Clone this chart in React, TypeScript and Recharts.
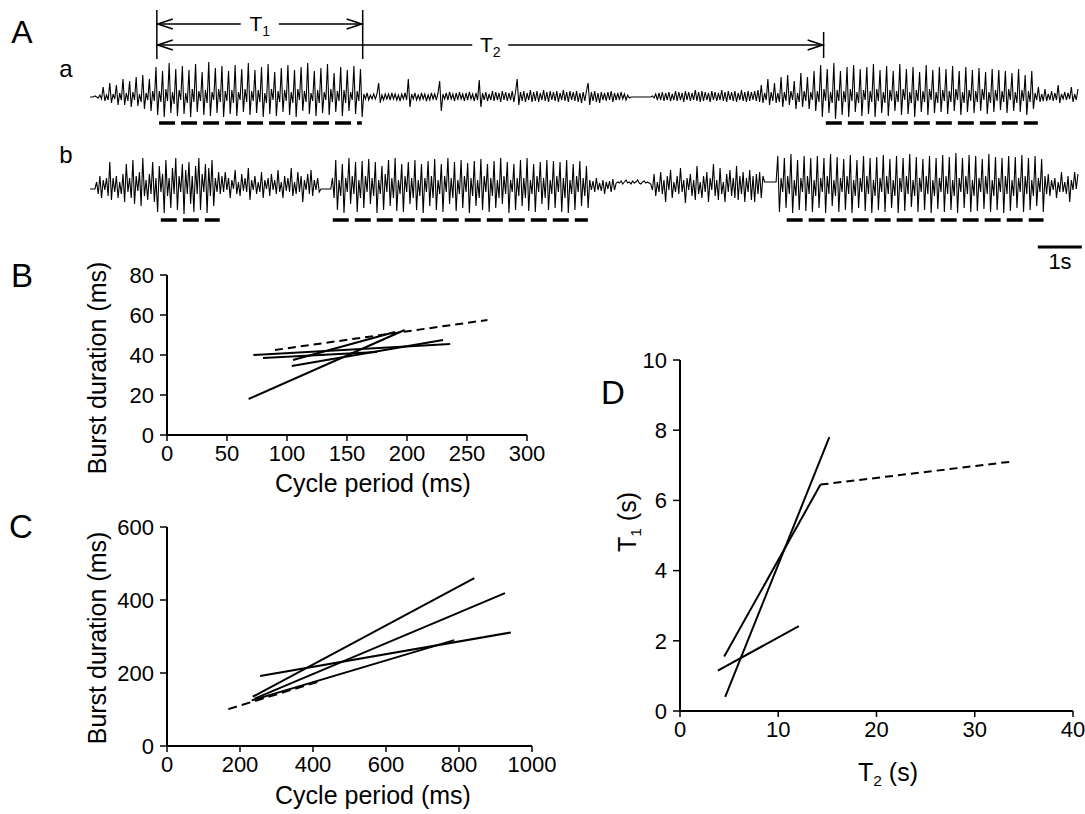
import { LineChart, Line, XAxis, YAxis, ReferenceLine } from "recharts";

const FONT = "'Liberation Sans', Arial, Helvetica, sans-serif";

// ---- Panel A: two extracellular recordings, one sample every 37.5 ms ----
// values are deflections from baseline (up = positive)
const SAMPLE_S = 0.0375;

const traceA = [
  0, 0, 0, 1, 0, -1, 2, -2, 10, -4, 2, -3, 14, -6, 3, -2, 12, -8, 4, -3,
  18, -8, 4, -4, 16, -10, 5, -3, 20, -9, 3, -5, 22, -12, 4, -3, 18, -14, 6, -4,
  30, -18, 6, -5, 26, -20, 8, -4, 34, -16, 5, -7, 28, -19, 7, -3, 31, -17, 4, -6,
  27, -20, 8, -5, 33, -15, 6, -4, 25, -18, 7, -6, 35, -19, 5, -3, 29, -16, 8, -5,
  31, -20, 6, -4, 26, -17, 7, -6, 32, -19, 5, -3, 28, -15, 8, -5, 34, -18, 6, -4,
  27, -16, 7, -5, 30, -20, 4, -6, 33, -17, 8, -3, 25, -19, 6, -5, 29, -15, 7, -4,
  32, -18, 5, -6, 27, -20, 8, -3, 30, -14, 6, -5, 34, -17, 4, -4, 26, -19, 7, -6,
  29, -16, 5, -3, 33, -18, 8, -5, 24, -15, 6, -4, 30, -19, 7, -6, 27, -14, 5, -3,
  31, -17, 6, -4, 28, -20, 3, -2, 4, -3, 2, -2, 3, -2, 3, 14, -6, 2, -3, 3,
  -2, 3, -3, 4, -2, 3, -3, 2, -4, 3, -2, 4, -3, 18, -10, 3, -2, 4, -3, 2,
  -3, 4, -2, 3, -4, 2, -3, 4, -2, 3, -3, 4, 16, -14, 3, -2, 4, -3, 5, -2,
  3, -4, 4, -3, 5, -2, 3, -4, 4, -3, 5, -2, 3, -4, 4, -3, 17, -10, 4, -3,
  5, -4, 3, -3, 6, -4, 5, -3, 4, -5, 6, -3, 5, -4, 4, -3, 6, -5, 5, 18,
  -8, 5, -4, 6, -5, 4, -3, 7, -5, 5, -4, 6, -5, 4, -3, 7, -4, 5, -5, 6,
  -3, 5, -4, 6, -5, 4, -3, 7, -4, 5, -5, 6, -3, 5, -4, 6, -5, 4, -6, 5,
  -4, 6, 14, -8, 5, -4, 6, -5, 4, -6, 5, -3, 4, -4, 5, -3, 6, -5, 4, -3,
  4, -3, 5, -2, 3, -3, 2, -1, 0, 0, 0, 0, 0, 0, 0, 0, 0, 0, 0, 0,
  0, 1, -1, 3, -3, 4, -3, 5, -4, 4, -3, 5, -4, 3, -3, 6, -4, 5, -3, 4,
  -5, 6, -3, 5, -4, 4, -3, 7, -4, 5, -5, 6, -4, 5, -3, 4, -5, 6, -3, 5,
  -4, 4, -3, 7, -4, 5, -5, 6, -3, 5, -4, 6, -5, 4, -3, 7, -4, 5, -5, 6,
  -4, 5, -3, 6, -4, 7, -5, 12, -6, 4, -3, 18, -8, 5, -4, 14, -6, 4, -5, 20,
  -10, 5, -4, 22, -8, 6, -3, 16, -12, 4, -5, 24, -10, 6, -4, 20, -12, 5, -3, 26,
  -14, 6, -5, 32, -20, 8, -4, 28, -16, 5, -6, 34, -22, 7, -4, 26, -18, 6, -5, 30,
  -20, 8, -4, 32, -15, 5, -6, 28, -19, 7, -3, 30, -17, 6, -5, 33, -20, 8, -4, 27,
  -16, 5, -6, 31, -19, 7, -4, 26, -14, 6, -5, 33, -18, 8, -3, 28, -17, 5, -6, 30,
  -20, 7, -4, 25, -15, 6, -5, 32, -18, 8, -3, 27, -16, 5, -6, 30, -15, 7, -4, 28,
  -17, 6, -5, 31, -14, 8, -3, 26, -18, 5, -6, 30, -15, 7, -4, 27, -16, 6, -5, 29,
  -14, 8, -3, 25, -17, 5, -6, 28, -15, 7, -4, 27, -13, 6, -5, 26, -16, 8, -3, 24,
  -14, 5, -6, 28, -15, 7, -4, 22, -18, 6, -5, 26, -12, 4, -3, 10, -5, 3, -4, 8,
  -4, 3, -3, 6, -4, 4, -3, 12, -6, 3, -2, 5, -3, 4, -2, 10, -5, 3, -3, 8,
];

const traceB = [
  -3, -3, -3, -3, 4, -8, 10, -12, 6, -4, 8, -10, 24, -14, 8, -6, 10, -12, 4, -8,
  12, -16, 22, -6, 8, -12, 26, -18, 10, -5, 14, -20, 28, -10, 6, -14, 12, -8, 24, -16,
  8, -26, 20, -6, 12, -27, 26, -10, 8, -22, 18, -8, 28, -24, 10, -6, 22, -28, 16, -8,
  24, -18, 10, -26, 20, -8, 28, -24, 12, -6, 22, -27, 18, -10, 26, -20, 8, -6, 14, -8,
  10, -6, 14, -4, 8, -12, 6, -3, 16, -8, 4, -10, 12, -5, 8, -6, 18, -14, 6, -4,
  10, -8, 4, -6, 14, -12, 6, -3, 8, -10, 12, -4, 6, -8, 16, -6, 4, -12, 10, -5,
  8, -6, 18, -10, 4, -8, 14, -6, 10, -16, 6, -4, 12, -8, 16, -10, 6, -4, 8, -6,
  -3, -3, -3, -3, -3, -3, -3, 8, -12, 26, -24, 6, -10, 22, -27, 8, -6, 28, -18, 10,
  -8, 24, -26, 6, -12, 25, -22, 10, -6, 27, -18, 8, -10, 24, -27, 6, -8, 20, -24, 12,
  -6, 26, -20, 8, -12, 28, -25, 6, -8, 22, -26, 10, -6, 24, -18, 8, -12, 26, -24, 6,
  -10, 22, -27, 8, -6, 25, -20, 10, -12, 27, -24, 6, -8, 22, -26, 10, -6, 28, -18, 8,
  -12, 24, -25, 6, -8, 26, -22, 10, -6, 23, -27, 8, -10, 25, -20, 6, -12, 27, -24, 10,
  -6, 22, -26, 8, -10, 25, -22, 6, -12, 28, -18, 10, -8, 24, -27, 6, -6, 22, -24, 8,
  -10, 26, -20, 8, -12, 28, -25, 6, -8, 22, -26, 10, -6, 24, -18, 8, -12, 26, -24, 6,
  -8, 25, -22, 10, -6, 24, -26, 8, -12, 26, -27, 6, -8, 22, -24, 10, -6, 25, -20, 8,
  -10, 20, -22, 6, -4, 5, -6, 8, -4, 3, -5, 6, -8, 4, -3, 5, -6, 7, -4, 3,
  4, 3, 5, 2, 4, 6, 3, 4, 2, 5, 3, 4, 6, 3, 2, 4, 5, 3, 4, 3,
  2, -4, 12, -10, 4, -6, 14, -8, 6, -16, 10, -4, 16, -12, 4, -6, 10, -8, 18, -6,
  6, -17, 8, -4, 12, -10, 6, -14, 20, -8, 4, -12, 10, -6, 14, -16, 8, -4, 22, -10,
  6, -14, 18, -8, 4, -16, 12, -6, 16, -10, 8, -12, 20, -14, 10, -8, 14, -16, 8, -6,
  16, -14, 10, -16, 12, -8, 14, -12, 10, 4, 4, 4, 4, 4, 4, 4, 4, 30, -26, 8,
  -6, 28, -22, 10, -8, 32, -27, 6, -10, 26, -24, 8, -6, 30, -25, 10, -8, 28, -26, 6,
  -10, 30, -22, 8, -6, 28, -27, 10, -8, 32, -20, 6, -10, 29, -26, 8, -6, 27, -24, 10,
  -8, 31, -27, 6, -10, 26, -22, 8, -6, 30, -25, 10, -8, 28, -27, 6, -10, 29, -24, 8,
  -6, 31, -26, 10, -8, 27, -22, 6, -10, 30, -27, 8, -6, 28, -25, 10, -8, 32, -21, 6,
  -10, 29, -26, 8, -6, 27, -24, 10, -8, 30, -27, 6, -10, 28, -23, 8, -6, 31, -26, 10,
  -8, 29, -24, 6, -10, 33, -27, 8, -6, 28, -22, 10, -8, 31, -26, 6, -10, 30, -25, 8,
  -6, 27, -23, 10, -8, 32, -26, 6, -10, 29, -24, 8, -6, 28, -27, 10, -8, 30, -25, 6,
  -10, 29, -22, 8, -6, 31, -26, 10, -8, 28, -24, 6, -10, 30, -20, 8, -6, 27, -26, 10,
  -8, 12, -10, 6, -4, 8, -12, 4, -6, 14, -6, 4, -8, 10, -16, 6, -4, 14, -3, 12,
];

// burst intervals (s) marked by the dashed bars
const burstStartA = [1.57, 16.73];
const burstEndA = [6.18, 21.55];
const burstStartB = [1.61, 5.52, 15.84];
const burstEndB = [2.95, 11.32, 21.68];

// T1 / T2 markers (s)
const T_START = 1.52;
const T1_END = 6.2;
const T2_END = 16.68;
const SCALE_BAR = [21.55, 22.55];

// ---- Panel B: burst duration vs cycle period (ms) ----
const bCycleStart = [68, 72, 80, 104, 105];
const bCycleEnd = [198, 236, 175, 230, 190];
const bBurstStart = [18, 40, 38.5, 34.5, 37.5];
const bBurstEnd = [52.5, 45.5, 41.5, 47.5, 51.5];
const bDashCycle = [90, 267];
const bDashBurst = [42.5, 57.5];

// ---- Panel C ----
const cCycleStart = [235, 240, 232, 255];
const cCycleEnd = [842, 926, 787, 942];
const cBurstStart = [135, 130, 125, 192];
const cBurstEnd = [460, 419, 290, 311];
const cDashCycle = [168, 420];
const cDashBurst = [101, 178];

// ---- Panel D: T1 vs T2 (s) ----
const dT2Start = [4.5, 4.6, 3.85];
const dT2End = [14.3, 15.2, 12.1];
const dT1Start = [1.55, 0.4, 1.15];
const dT1End = [6.45, 7.8, 2.42];
const dDashT2 = [14.3, 33.6];
const dDashT1 = [6.45, 7.1];

const traceData = traceA.map((v, i) => ({
  t: +(i * SAMPLE_S).toFixed(4),
  a: v,
  b: traceB[i],
}));

const seg = (x0: number, x1: number, y0: number, y1: number) => [
  { x: x0, y: y0 },
  { x: x1, y: y1 },
];

const tickStyle = { fill: "#000", fontSize: 22, fontFamily: FONT };
const axisLine = { stroke: "#000", strokeWidth: 2 };
const tickLine = { stroke: "#000", strokeWidth: 1.5 };

function spanArrow(sub: string, half: number) {
  return (p: any) => {
    const lo = Math.min(p.x1, p.x2);
    const hi = Math.max(p.x1, p.x2);
    const y = p.y1;
    const mid = (lo + hi) / 2;
    return (
      <g>
        <line x1={lo} y1={y} x2={mid - half} y2={y} stroke="#000" strokeWidth={1.4} />
        <line x1={mid + half} y1={y} x2={hi} y2={y} stroke="#000" strokeWidth={1.4} />
        <polyline
          points={`${lo + 16},${y - 5} ${lo + 1},${y} ${lo + 16},${y + 5}`}
          fill="none"
          stroke="#000"
          strokeWidth={1.6}
        />
        <polyline
          points={`${hi - 16},${y - 5} ${hi - 1},${y} ${hi - 16},${y + 5}`}
          fill="none"
          stroke="#000"
          strokeWidth={1.6}
        />
        <text x={mid} y={y + 7} textAnchor="middle" fontSize={21} fontFamily={FONT} fill="#000">
          T
          <tspan fontSize={14} dy={5}>
            {sub}
          </tspan>
        </text>
      </g>
    );
  };
}

function Txt({
  x,
  y,
  size,
  rotate,
  children,
}: {
  x: number;
  y: number;
  size: number;
  rotate?: boolean;
  children: any;
}) {
  return (
    <div
      style={{
        position: "absolute",
        left: x,
        top: y,
        fontSize: size,
        lineHeight: 1,
        whiteSpace: "nowrap",
        transform: `translate(-50%, -50%)${rotate ? " rotate(-90deg)" : ""}`,
      }}
    >
      {children}
    </div>
  );
}

const Sub = ({ children }: { children: any }) => (
  <span style={{ fontSize: "0.62em", position: "relative", top: "0.3em" }}>{children}</span>
);

function TraceChart() {
  return (
    <LineChart
      width={994}
      height={270}
      data={traceData}
      margin={{ top: 0, right: 0, bottom: 0, left: 0 }}
    >
      <XAxis type="number" dataKey="t" domain={[0, 22.6]} allowDataOverflow hide />
      <YAxis yAxisId="a" type="number" domain={[-173, 97]} allowDataOverflow hide />
      <YAxis yAxisId="b" type="number" domain={[-84, 186]} allowDataOverflow hide />
      <YAxis yAxisId="ann" type="number" domain={[0, 270]} reversed allowDataOverflow hide />
      <Line
        yAxisId="a"
        dataKey="a"
        stroke="#000"
        strokeWidth={1.1}
        dot={false}
        isAnimationActive={false}
      />
      <Line
        yAxisId="b"
        dataKey="b"
        stroke="#000"
        strokeWidth={1.1}
        dot={false}
        isAnimationActive={false}
      />
      {[T_START, T1_END].map((t) => (
        <ReferenceLine
          key={"v" + t}
          yAxisId="ann"
          segment={seg(t, t, 10, 59)}
          stroke="#000"
          strokeWidth={1.5}
        />
      ))}
      <ReferenceLine yAxisId="ann" segment={seg(T2_END, T2_END, 32, 58)} stroke="#000" strokeWidth={1.5} />
      <ReferenceLine yAxisId="ann" segment={seg(T_START, T1_END, 24, 24)} shape={spanArrow("1", 19)} />
      <ReferenceLine yAxisId="ann" segment={seg(T_START, T2_END, 45, 45)} shape={spanArrow("2", 18)} />
      {burstStartA.map((s, i) => (
        <ReferenceLine
          key={"ba" + i}
          yAxisId="a"
          segment={seg(s, burstEndA[i], -26, -26)}
          stroke="#000"
          strokeWidth={3.5}
          strokeDasharray="16 6"
        />
      ))}
      {burstStartB.map((s, i) => (
        <ReferenceLine
          key={"bb" + i}
          yAxisId="b"
          segment={seg(s, burstEndB[i], -34, -34)}
          stroke="#000"
          strokeWidth={3.5}
          strokeDasharray="16 6"
        />
      ))}
      <ReferenceLine
        yAxisId="ann"
        segment={seg(SCALE_BAR[0], SCALE_BAR[1], 247, 247)}
        stroke="#000"
        strokeWidth={3}
      />
    </LineChart>
  );
}

function PeriodChart({
  width,
  height,
  margin,
  xMax,
  xTicks,
  yMax,
  yTicks,
  yWidth,
  starts,
  ends,
  y0s,
  y1s,
  dashX,
  dashY,
  dash,
}: any) {
  return (
    <LineChart width={width} height={height} margin={margin}>
      <XAxis
        type="number"
        dataKey="x"
        domain={[0, xMax]}
        ticks={xTicks}
        allowDataOverflow
        height={40}
        tickSize={6}
        tickMargin={4}
        tick={tickStyle}
        axisLine={axisLine}
        tickLine={tickLine}
      />
      <YAxis
        type="number"
        dataKey="y"
        domain={[0, yMax]}
        ticks={yTicks}
        allowDataOverflow
        width={yWidth}
        tickSize={7}
        tickMargin={6}
        tick={tickStyle}
        axisLine={axisLine}
        tickLine={tickLine}
      />
      {starts.map((s: number, i: number) => (
        <Line
          key={i}
          data={seg(s, ends[i], y0s[i], y1s[i])}
          dataKey="y"
          stroke="#000"
          strokeWidth={2}
          dot={false}
          isAnimationActive={false}
        />
      ))}
      <Line
        data={seg(dashX[0], dashX[1], dashY[0], dashY[1])}
        dataKey="y"
        stroke="#000"
        strokeWidth={2}
        strokeDasharray={dash}
        dot={false}
        isAnimationActive={false}
      />
    </LineChart>
  );
}

export default function App() {
  return (
    <div
      style={{
        position: "absolute",
        left: 0,
        top: 0,
        width: 1085,
        height: 814,
        background: "#fff",
        color: "#000",
        fontFamily: FONT,
        overflow: "hidden",
      }}
    >
      <div style={{ position: "absolute", left: 90, top: 0 }}>
        <TraceChart />
      </div>

      <div style={{ position: "absolute", left: 0, top: 260 }}>
        <PeriodChart
          width={560}
          height={250}
          margin={{ top: 15, right: 33, bottom: 35, left: 27 }}
          xMax={300}
          xTicks={[0, 50, 100, 150, 200, 250, 300]}
          yMax={80}
          yTicks={[0, 20, 40, 60, 80]}
          yWidth={140}
          starts={bCycleStart}
          ends={bCycleEnd}
          y0s={bBurstStart}
          y1s={bBurstEnd}
          dashX={bDashCycle}
          dashY={bDashBurst}
          dash="8 5"
        />
      </div>

      <div style={{ position: "absolute", left: 0, top: 510 }}>
        <PeriodChart
          width={560}
          height={300}
          margin={{ top: 17, right: 28, bottom: 24, left: 27 }}
          xMax={1000}
          xTicks={[0, 200, 400, 600, 800, 1000]}
          yMax={600}
          yTicks={[0, 200, 400, 600]}
          yWidth={140}
          starts={cCycleStart}
          ends={cCycleEnd}
          y0s={cBurstStart}
          y1s={cBurstEnd}
          dashX={cDashCycle}
          dashY={cDashBurst}
          dash="9 5"
        />
      </div>

      <div style={{ position: "absolute", left: 560, top: 340 }}>
        <PeriodChart
          width={540}
          height={460}
          margin={{ top: 20, right: 27, bottom: 49, left: 14 }}
          xMax={40}
          xTicks={[0, 10, 20, 30, 40]}
          yMax={10}
          yTicks={[0, 2, 4, 6, 8, 10]}
          yWidth={106}
          starts={dT2Start}
          ends={dT2End}
          y0s={dT1Start}
          y1s={dT1End}
          dashX={dDashT2}
          dashY={dDashT1}
          dash="8 5"
        />
      </div>

      <Txt x={22} y={32} size={32}>A</Txt>
      <Txt x={66} y={69} size={24}>a</Txt>
      <Txt x={66} y={155} size={24}>b</Txt>
      <Txt x={1060} y={262} size={22}>1s</Txt>

      <Txt x={22} y={275} size={33}>B</Txt>
      <Txt x={97} y={368} size={25} rotate>Burst duration (ms)</Txt>
      <Txt x={373} y={483} size={25}>Cycle period (ms)</Txt>

      <Txt x={21} y={526} size={33}>C</Txt>
      <Txt x={97} y={638} size={25} rotate>Burst duration (ms)</Txt>
      <Txt x={373} y={795} size={25}>Cycle period (ms)</Txt>

      <Txt x={613} y={392} size={33}>D</Txt>
      <Txt x={627} y={522} size={25} rotate>
        T<Sub>1</Sub> (s)
      </Txt>
      <Txt x={888} y={772} size={25}>
        T<Sub>2</Sub> (s)
      </Txt>
    </div>
  );
}
